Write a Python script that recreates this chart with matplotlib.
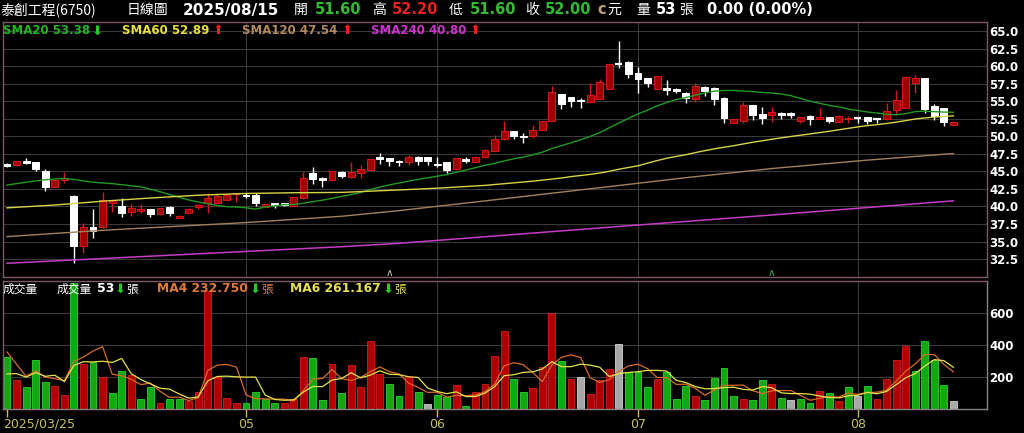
import numpy as np
import pandas as pd
import matplotlib
matplotlib.use('Agg')
import matplotlib.pyplot as plt
import matplotlib.transforms as mtransforms

plt.rcParams['font.family'] = ['DejaVu Sans', 'Noto Sans CJK TC']

# ---------------- data ----------------
opens = [46.0, 45.9, 46.45, 46.3, 45.05, 42.8, 43.8, 41.5, 34.4, 37.0,
         37.0, 40.45, 40.0, 39.15, 39.35, 39.6, 38.9, 39.95, 38.4, 39.05,
         39.85, 40.45, 40.55, 40.9, 41.7, 41.7, 41.6, 39.95, 40.5, 40.45,
         40.1, 41.2, 44.7, 44.1, 43.7, 44.95, 44.25, 44.7, 45.2, 47.1,
         46.85, 46.45, 46.4, 47.1, 47.0, 46.1, 46.3, 45.3, 46.8, 46.4,
         47.1, 47.9, 49.6, 50.7, 50.05, 50.1, 50.9, 52.2, 56.0, 55.55,
         55.15, 54.85, 55.3, 56.8, 60.35, 60.6, 59.05, 58.25, 56.75, 56.85,
         56.8, 56.1, 55.25, 57.05, 56.95, 55.5, 51.95, 52.2, 54.45, 53.15,
         53.1, 53.35, 53.35, 52.2, 52.95, 52.45, 52.7, 52.1, 52.4, 52.6,
         52.7, 52.5, 52.4, 53.75, 54.1, 57.55, 58.25, 54.35, 54.0, 51.6]
highs = [46.2, 46.5, 46.95, 46.35, 45.33, 43.75, 44.95, 41.6, 37.6, 39.6,
         42.1, 40.9, 41.15, 40.3, 40.3, 39.65, 39.8, 40.0, 38.85, 39.75,
         40.3, 41.85, 41.95, 41.75, 41.9, 41.9, 41.95, 40.35, 40.55, 40.5,
         41.35, 44.95, 45.65, 44.15, 45.1, 45.0, 46.4, 45.9, 46.75, 47.55,
         46.9, 46.6, 47.4, 47.15, 47.05, 46.99, 46.35, 46.9, 47.05, 47.15,
         48.25, 50.2, 52.15, 50.75, 50.4, 51.6, 52.2, 57.15, 56.05, 55.6,
         55.4, 57.55, 58.1, 60.35, 63.6, 60.7, 59.9, 58.3, 58.65, 58.0,
         56.9, 56.35, 57.55, 57.1, 57.0, 55.55, 52.5, 54.95, 54.5, 54.2,
         54.2, 53.4, 53.4, 52.75, 53.0, 54.0, 52.75, 53.0, 52.95, 52.8,
         52.75, 52.65, 54.7, 56.6, 58.55, 58.75, 58.3, 54.6, 54.05, 52.2]
lows = [45.6, 45.8, 46.0, 45.05, 42.24, 42.75, 43.3, 32.0, 33.4, 35.45,
        36.9, 39.2, 38.45, 38.7, 39.1, 38.45, 38.85, 38.65, 38.3, 39.0,
        39.7, 39.0, 40.5, 40.85, 40.7, 41.2, 40.05, 39.9, 39.75, 40.1,
        40.05, 41.1, 43.2, 42.8, 43.6, 44.0, 44.1, 44.1, 45.15, 46.0,
        45.8, 45.75, 45.95, 45.95, 45.95, 45.66, 44.8, 45.25, 46.2, 46.35,
        46.85, 47.85, 49.5, 49.6, 49.0, 49.7, 50.85, 52.15, 53.9, 54.2,
        54.0, 54.8, 55.25, 56.75, 59.7, 58.25, 56.1, 57.0, 56.7, 55.9,
        56.2, 54.7, 54.85, 55.8, 54.45, 51.85, 51.85, 51.85, 52.3, 51.75,
        52.1, 52.4, 52.55, 51.95, 51.6, 52.4, 51.85, 52.05, 51.95, 51.95,
        51.75, 51.85, 52.35, 53.0, 54.05, 56.1, 53.3, 52.3, 51.45, 51.6]
closes = [45.8, 46.45, 46.2, 45.4, 42.7, 43.7, 44.1, 34.4, 37.0, 36.5,
          40.9, 40.8, 39.0, 39.8, 39.7, 38.9, 39.75, 39.1, 38.7, 39.7,
          40.15, 41.2, 41.5, 41.7, 41.75, 41.5, 40.45, 40.3, 40.15, 40.25,
          41.3, 44.1, 43.85, 43.8, 45.05, 44.35, 44.85, 45.4, 46.7, 46.8,
          46.5, 46.3, 47.0, 46.5, 46.5, 45.95, 45.2, 46.85, 46.5, 47.1,
          48.0, 49.55, 50.7, 50.05, 49.85, 50.9, 52.15, 56.25, 54.6, 55.0,
          55.0, 55.9, 57.8, 60.3, 60.3, 58.9, 58.1, 57.55, 58.6, 56.6,
          56.45, 55.4, 57.2, 56.5, 55.25, 52.55, 52.45, 54.45, 53.1, 52.55,
          53.4, 53.0, 53.0, 52.7, 52.45, 52.8, 52.2, 52.95, 52.55, 52.55,
          52.2, 52.4, 53.6, 55.15, 58.5, 58.25, 53.85, 52.95, 52.0, 52.0]
volumes = [327, 185, 140, 306, 171, 144, 88, 790, 281, 296,
           198, 98, 240, 212, 62, 136, 35, 60, 65, 52,
           106, 740, 202, 71, 40, 40, 108, 65, 35, 40,
           60, 327, 323, 56, 285, 98, 275, 136, 427, 217,
           156, 81, 198, 108, 29, 88, 73, 150, 21, 108,
           156, 331, 487, 187, 108, 129, 265, 604, 300, 187,
           202, 94, 185, 254, 410, 229, 233, 140, 187, 229,
           62, 144, 83, 56, 196, 260, 83, 62, 56, 185,
           154, 67, 56, 62, 35, 115, 98, 52, 136, 81,
           144, 60, 187, 306, 395, 241, 425, 305, 148, 53]
close_before_first = 46.1

sma20_head = [43.05, 43.25, 43.45, 43.65, 43.8, 43.9, 44.0, 43.85, 43.65, 43.45,
              43.35, 43.25, 43.1, 42.95, 42.8, 42.45, 42.1, 41.7, 41.3]
sma60_head_idx = [0, 5, 10, 15, 20, 25, 30, 35, 41, 45, 50, 55, 58]
sma60_head_val = [39.8, 40.2, 40.75, 41.2, 41.6, 41.85, 41.95, 42.0, 42.35, 42.6, 43.0, 43.6, 44.05]
sma120_idx = [0, 10, 25, 35, 41, 52, 66, 71, 80, 90, 99]
sma120_val = [35.7, 36.6, 37.7, 38.6, 39.4, 41.1, 43.3, 44.1, 45.4, 46.6, 47.54]
sma240_idx = [0, 35, 41, 66, 80, 99]
sma240_val = [31.9, 34.26, 34.74, 37.35, 38.78, 40.8]
vma4_head = [358, 280, 205]
vma6_head = [220, 222, 200, 228, 205]

month_idx = [0, 25, 45, 66, 89]
month_labels = ['2025/03/25', '05', '06', '07', '08']
price_ticks = [32.5, 35.0, 37.5, 40.0, 42.5, 45.0, 47.5, 50.0, 52.5, 55.0, 57.5, 60.0, 62.5, 65.0]
vol_ticks = [200, 400, 600]
marker_idx = [40, 80]

# ---------------- derived ----------------
n = len(closes)
idx = np.arange(n)
cs = pd.Series(closes)
sma20 = np.r_[sma20_head, cs.rolling(20).mean().values[19:]]
sma60_x = list(sma60_head_idx) + list(range(59, n))
sma60_y = list(sma60_head_val) + list(cs.rolling(60).mean().values[59:])
vs = pd.Series(volumes)
vma4 = np.r_[vma4_head, vs.rolling(4).mean().values[3:]]
vma6 = np.r_[vma6_head, vs.rolling(6).mean().values[5:]]

W, H = 1024, 433
fig = plt.figure(figsize=(W / 100, H / 100), dpi=100, facecolor='black')
L = 3 / W
R = 986.5 / W
ax = fig.add_axes([L, 1 - 277.3 / H, R - L, (277.3 - 21.7) / H], facecolor='black')
ax2 = fig.add_axes([L, 1 - 409 / H, R - L, (409 - 280.5) / H], facecolor='black')

border = '#7a5a6a'
gridc = '#3a3a3a'
for a in (ax, ax2):
    for s in a.spines.values():
        s.set_color(border)
        s.set_linewidth(1.0)
    a.set_xlim(-0.42, 102.46)
    for m in month_idx[1:]:
        a.axvline(m, color=gridc, lw=0.8, zorder=0)
ax2.spines['bottom'].set_color('#8a8088')
ax2.spines['right'].set_color('#8a8088')

# ---------------- price panel ----------------
ax.set_ylim(29.9, 66.33)
for p in price_ticks:
    ax.axhline(p, color=gridc, lw=0.8, zorder=0)

RED_F, RED_E = '#a00000', '#dc1818'
for i in range(n):
    o, h, l, c = opens[i], highs[i], lows[i], closes[i]
    up = c >= o
    col_w = RED_E if up else '#ffffff'
    ax.vlines(i, l, h, color=col_w, lw=1.0, zorder=2)
    body = abs(c - o)
    if body < 0.12:
        ax.hlines((o + c) / 2, i - 0.38, i + 0.38, color=col_w, lw=1.6, zorder=3)
    else:
        ax.bar(i, body, bottom=min(o, c), width=0.72,
               color=RED_F if up else '#ffffff',
               edgecolor=RED_E if up else '#ffffff', lw=0.7, zorder=3)

ax.plot(idx, sma20, color='#219a21', lw=1.0, zorder=4)
ax.plot(sma60_x, sma60_y, color='#d8d448', lw=1.0, zorder=4)
ax.plot(sma120_idx, sma120_val, color='#a2805e', lw=1.0, zorder=4)
ax.plot(sma240_idx, sma240_val, color='#c53cc5', lw=1.1, zorder=4)

for k, mi in enumerate(marker_idx):
    ax.text(mi, 30.5, '∧', color=['#c8c8a8', '#40b040'][k], fontsize=7.5,
            ha='center', va='center', zorder=5)

ax.yaxis.tick_right()
ax.set_yticks(price_ticks)
ax.set_yticklabels([f'{p:.1f}' for p in price_ticks])
ax.tick_params(axis='y', colors='white', length=0, pad=2.2, labelsize=8.5)
for t in ax.get_yticklabels():
    t.set_fontweight('bold')
ax.set_xticks([])

# ---------------- volume panel ----------------
ax2.set_ylim(0, 806)
for v in vol_ticks:
    ax2.axhline(v, color=gridc, lw=0.8, zorder=0)
prev = [close_before_first] + closes[:-1]
fc, ec = [], []
for i in range(n):
    if closes[i] > prev[i]:
        fc.append('#b00000'); ec.append('#d42020')
    elif closes[i] < prev[i]:
        fc.append('#12a812'); ec.append('#30d030')
    else:
        fc.append('#a8a8a8'); ec.append('#d0d0d0')
ax2.bar(idx, volumes, width=0.72, color=fc, edgecolor=ec, lw=0.6, zorder=2)
ax2.plot(idx, vma4, color='#d86a28', lw=0.9, zorder=3)
ax2.plot(idx, vma6, color='#e6e050', lw=0.9, zorder=3)

ax2.yaxis.tick_right()
ax2.set_yticks(vol_ticks)
ax2.set_yticklabels([str(v) for v in vol_ticks])
ax2.tick_params(axis='y', colors='white', length=0, pad=2.2, labelsize=8.5)
for t in ax2.get_yticklabels():
    t.set_fontweight('bold')
ax2.set_xticks(month_idx)
ax2.set_xticklabels([''] * len(month_idx))
ax2.tick_params(axis='x', colors='#c8c060', length=6, width=1, direction='out')

trans = mtransforms.blended_transform_factory(ax2.transData, fig.transFigure)
for k, (mi, lab) in enumerate(zip(month_idx, month_labels)):
    if k == 0:
        ax2.text(-0.42, 1 - 424 / H, lab, transform=trans, color='#c8c060',
                 fontsize=9, ha='left', va='center')
    else:
        ax2.text(mi, 1 - 424 / H, lab, transform=trans, color='#c8c060',
                 fontsize=9, ha='center', va='center')

# ---------------- texts ----------------
CJK = ['Noto Sans CJK TC', 'DejaVu Sans']


def ftext(x, y, s, color='white', size=10, bold=False, cjk=False):
    fig.text(x / W, 1 - y / H, s, color=color, fontsize=size,
             fontweight='bold' if bold else 'normal',
             family=CJK if cjk else ['DejaVu Sans'], ha='left', va='center')


GREEN_T = '#33bb33'
RED_T = '#e82020'
DOWN = '⬇'
UP = '⬆'
ASZ = 9.5
# header
ftext(0, 10, '泰創工程(6750)', cjk=True, size=10)
ftext(127, 10, '日線圖', cjk=True, size=10)
ftext(183, 10, '2025/08/15', size=11, bold=True)
ftext(294, 10, '開', cjk=True, size=10)
ftext(315, 10, '51.60', GREEN_T, size=10.5, bold=True)
ftext(372, 10, '高', cjk=True, size=10)
ftext(392, 10, '52.20', RED_T, size=10.5, bold=True)
ftext(449, 10, '低', cjk=True, size=10)
ftext(470, 10, '51.60', GREEN_T, size=10.5, bold=True)
ftext(525, 10, '收', cjk=True, size=10)
ftext(545, 10, '52.00', GREEN_T, size=10.5, bold=True)
ftext(597, 10, 'c', '#b8a080', size=10.5, bold=True)
ftext(607, 10, '元', cjk=True, size=10)
ftext(636, 10, '量', cjk=True, size=10)
ftext(656, 10, '53', size=10.5, bold=True)
ftext(679, 10, '張', cjk=True, size=10)
ftext(707, 10, '0.00 (0.00%)', size=10.5, bold=True)

# main legend
ftext(3, 31, 'SMA20 53.38', '#22b422', size=8.5, bold=True)
ftext(92, 31, DOWN, '#22cc22', size=ASZ)
ftext(122, 31, 'SMA60 52.89', '#e8e040', size=8.5, bold=True)
ftext(213, 31, UP, RED_T, size=ASZ)
ftext(242, 31, 'SMA120 47.54', '#b08a5e', size=8.5, bold=True)
ftext(342, 31, UP, RED_T, size=ASZ)
ftext(371, 31, 'SMA240 40.80', '#cc33cc', size=8.5, bold=True)
ftext(470, 31, UP, RED_T, size=ASZ)

# volume legend
ftext(3, 289, '成交量', cjk=True, size=8.5)
ftext(57, 289, '成交量', cjk=True, size=8.5)
ftext(97, 289, '53', size=9, bold=True)
ftext(115, 289, DOWN, '#22cc22', size=ASZ)
ftext(126, 289, '張', cjk=True, size=8.5)
ftext(157, 289, 'MA4 232.750', '#e07a3a', size=8.8, bold=True)
ftext(250, 289, DOWN, '#22cc22', size=ASZ)
ftext(261, 289, '張', '#e07a3a', cjk=True, size=8.5)
ftext(290, 289, 'MA6 261.167', '#e8e050', size=8.8, bold=True)
ftext(383, 289, DOWN, '#22cc22', size=ASZ)
ftext(394, 289, '張', '#e8e050', cjk=True, size=8.5)

fig.savefig('out.png', dpi=100, facecolor='black')
